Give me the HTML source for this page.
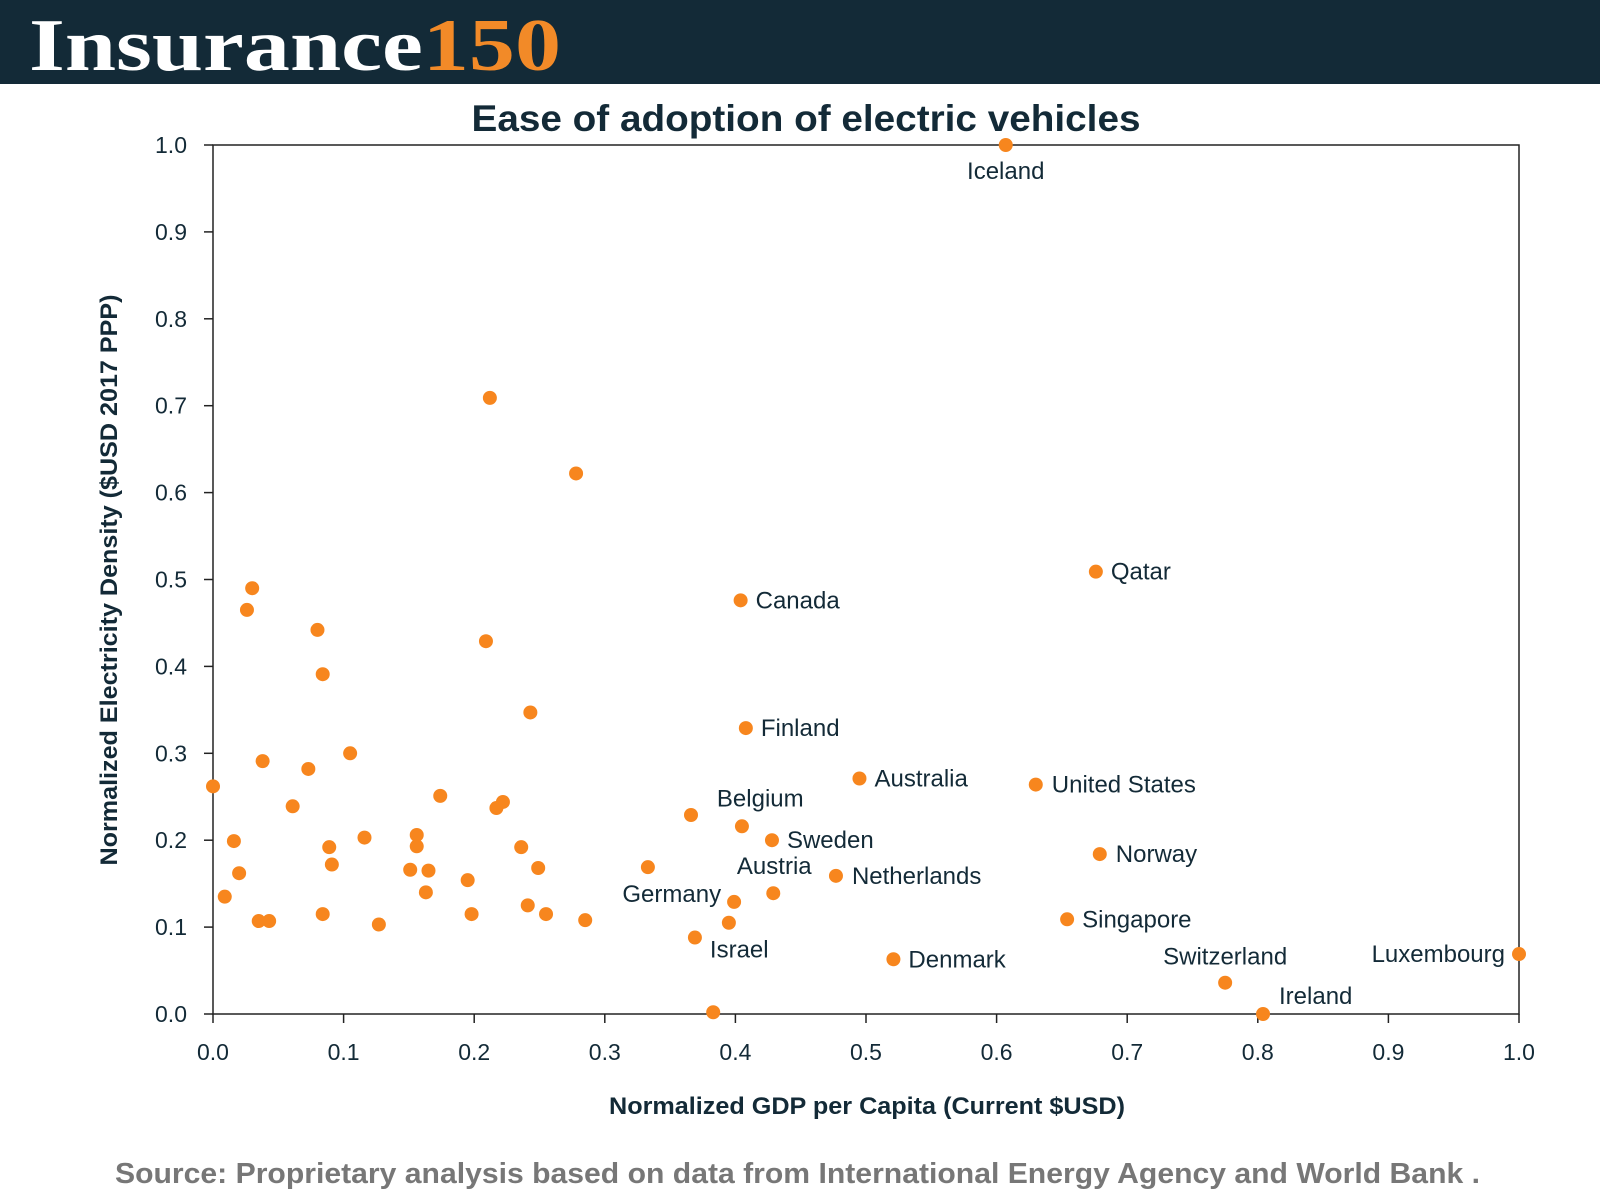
<!DOCTYPE html>
<html><head><meta charset="utf-8"><style>
html,body{margin:0;padding:0;width:1600px;height:1200px;background:#fff;overflow:hidden}
svg{display:block;font-family:"Liberation Sans",sans-serif}
</style></head><body>
<svg id="chart" width="1600" height="1200" viewBox="0 0 1600 1200">
<rect x="0" y="0" width="1600" height="84" fill="#132a37"/>
<text x="29" y="70" font-family="Liberation Serif,serif" font-weight="bold" font-size="74" fill="#fff" textLength="532" lengthAdjust="spacingAndGlyphs">Insurance<tspan fill="#f28a28">150</tspan></text>
<text x="806" y="131" text-anchor="middle" font-weight="bold" font-size="37" fill="#132a37" textLength="669" lengthAdjust="spacingAndGlyphs">Ease of adoption of electric vehicles</text>
<g id="axes"></g>
<g id="points"></g>
<text x="867" y="1114" text-anchor="middle" font-weight="bold" font-size="24" fill="#132a37" textLength="516" lengthAdjust="spacingAndGlyphs">Normalized GDP per Capita (Current $USD)</text>
<text transform="translate(117,580) rotate(-90)" text-anchor="middle" font-weight="bold" font-size="24" fill="#132a37" textLength="571" lengthAdjust="spacingAndGlyphs">Normalized Electricity Density ($USD 2017 PPP)</text>
<text x="115" y="1183" font-weight="bold" font-size="29" fill="#777" textLength="1365" lengthAdjust="spacingAndGlyphs">Source: Proprietary analysis based on data from International Energy Agency and World Bank  .</text>
</svg>
<script>
const xTicks=["0.0","0.1","0.2","0.3","0.4","0.5","0.6","0.7","0.8","0.9","1.0"];
const yTicks=["0.0","0.1","0.2","0.3","0.4","0.5","0.6","0.7","0.8","0.9","1.0"];
const labeledNames=["Iceland","Qatar","Canada","Finland","Australia","United States","Belgium","Sweden","Norway","Netherlands","Austria","Germany","Singapore","Israel","Denmark","Switzerland","Ireland","Luxembourg"];
const labeledX=[0.607,0.676,0.404,0.408,0.495,0.630,0.405,0.428,0.679,0.477,0.429,0.399,0.654,0.369,0.521,0.775,0.804,1.0];
const labeledY=[1.0,0.509,0.476,0.329,0.271,0.264,0.216,0.2,0.184,0.159,0.139,0.129,0.109,0.088,0.063,0.036,0.0,0.069];
const otherX=[0.395,0.383,0.212,0.278,0.030,0.026,0.080,0.084,0.209,0.243,0.038,0.073,0.105,0.0,0.061,0.174,0.222,0.217,0.016,0.116,0.089,0.156,0.156,0.236,0.366,0.020,0.091,0.151,0.165,0.195,0.249,0.333,0.009,0.163,0.241,0.255,0.198,0.084,0.035,0.043,0.127,0.285];
const otherY=[0.105,0.002,0.709,0.622,0.490,0.465,0.442,0.391,0.429,0.347,0.291,0.282,0.300,0.262,0.239,0.251,0.244,0.237,0.199,0.203,0.192,0.206,0.193,0.192,0.229,0.162,0.172,0.166,0.165,0.154,0.168,0.169,0.135,0.140,0.125,0.115,0.115,0.115,0.107,0.107,0.103,0.108];
// label placement (style, not data): [anchor, dx, dy]
const labelStyle={"Iceland":["middle",0,26],"Qatar":["start",15,0],"Canada":["start",15,0],"Finland":["start",15,0],"Australia":["start",15,0],"United States":["start",16,0],"Belgium":["start",-25,-28],"Sweden":["start",15,0],"Norway":["start",16,0],"Netherlands":["start",16,0],"Austria":["middle",1,-27],"Germany":["end",-13,-8],"Singapore":["start",15,0],"Israel":["start",15,12],"Denmark":["start",15,0],"Switzerland":["middle",0,-26],"Ireland":["start",16,-18],"Luxembourg":["end",-14,0]};
const L=213,R=1519,T=145,B=1014;
const sx=v=>L+v*(R-L), sy=v=>B-v*(B-T);
const NS="http://www.w3.org/2000/svg";
const axes=document.getElementById('axes'), pts=document.getElementById('points');
function mk(tag,attrs,parent){const e=document.createElementNS(NS,tag);for(const k in attrs)e.setAttribute(k,attrs[k]);parent.appendChild(e);return e;}
const frame=mk('rect',{x:L,y:T,width:R-L,height:B-T,fill:'none',stroke:'#222','stroke-width':1.5},axes);


xTicks.forEach(t=>{const x=sx(parseFloat(t));
 const l=mk('line',{x1:x,x2:x,y1:B,y2:B+9,stroke:'#222','stroke-width':1.5},axes);
 
 
 const tx=mk('text',{x:x,y:B+46,'text-anchor':'middle','font-size':23,fill:'#132a37'},axes);tx.textContent=t;
 
 
});
yTicks.forEach(t=>{const y=sy(parseFloat(t));
 const l=mk('line',{x1:L-9,x2:L,y1:y,y2:y,stroke:'#222','stroke-width':1.5},axes);
 
 
 const tx=mk('text',{x:187,y:y+8,'text-anchor':'end','font-size':23,fill:'#132a37'},axes);tx.textContent=t;
 
 
});
otherX.forEach((v,i)=>{const c=mk('circle',{cx:sx(v),cy:sy(otherY[i]),r:7,fill:'#f7861e'},pts);
 
 
});
labeledNames.forEach((n,i)=>{const x=sx(labeledX[i]),y=sy(labeledY[i]);
 const c=mk('circle',{cx:x,cy:y,r:7,fill:'#f7861e'},pts);
 
 
 const s=labelStyle[n];
 const tx=mk('text',{x:x+s[1],y:y+s[2]+8,'text-anchor':s[0],'font-size':24,fill:'#132a37'},pts);tx.textContent=n;
 
 
});
</script>
</body></html>
